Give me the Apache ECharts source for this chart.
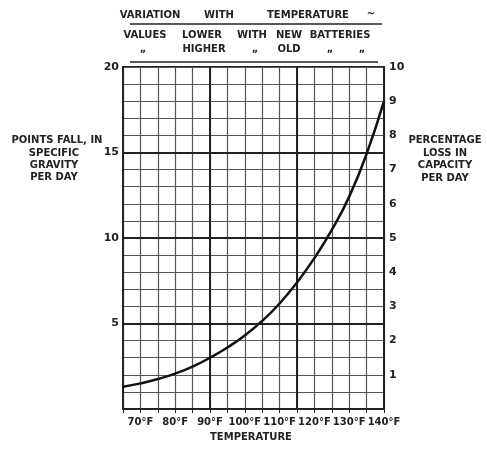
<!DOCTYPE html>
<html>
<head>
<meta charset="utf-8">
<script src="https://cdn.jsdelivr.net/npm/echarts@6/dist/echarts.min.js"></script>
<style>
  html, body { margin: 0; padding: 0; background: #fff; }
  #chart { width: 487px; height: 452px; }
</style>
</head>
<body>
<div id="chart"></div>
<script>
  // temperature (°F) and points fall in specific gravity per day
  var temps = [65, 70, 75, 80, 85, 90, 95, 100, 105, 110, 115, 120, 125, 130, 135, 140];
  var sgFall = [1.3, 1.5, 1.75, 2.07, 2.48, 3.0, 3.6, 4.3, 5.15, 6.17, 7.4, 8.82, 10.47, 12.42, 14.92, 18.0];
  var heavyY = [5, 10, 15];
  var heavyX = [90, 115];

  var font = 'DejaVu Sans';
  var ink = '#222';

  var points = [];
  for (var i = 0; i < temps.length; i++) {
    points.push([temps[i], sgFall[i]]);
  }
  var marks = [];
  heavyY.forEach(function (v) { marks.push({ yAxis: v }); });
  heavyX.forEach(function (v) { marks.push({ xAxis: v }); });

  function txt(x, y, s, align) {
    return {
      type: 'text', x: x, y: y,
      style: { text: s, font: 'bold 10px ' + font, fill: ink, align: align || 'center', verticalAlign: 'middle' }
    };
  }

  const myEcharts = echarts.init(document.getElementById('chart'));
  const options = {
    animation: false,
    grid: {
      left: 123, right: 103, top: 67, bottom: 43,
      show: true, borderColor: ink, borderWidth: 2
    },
    xAxis: {
      type: 'value', min: 65, max: 140, interval: 5,
      axisLine: { lineStyle: { color: ink, width: 2 } },
      axisTick: { show: true, length: 4, lineStyle: { color: ink } },
      splitLine: { show: true, lineStyle: { color: '#555', width: 1.2 } },
      axisLabel: {
        color: ink, fontFamily: font, fontSize: 10, fontWeight: 'bold', margin: 8,
        formatter: function (v) { return v % 10 === 0 ? v + '°F' : ''; }
      }
    },
    yAxis: [{
      type: 'value', min: 0, max: 20, interval: 1,
      axisLine: { show: true, lineStyle: { color: ink, width: 2 } },
      axisTick: { show: false },
      splitLine: { show: true, lineStyle: { color: '#555', width: 1.2 } },
      axisLabel: {
        color: ink, fontFamily: font, fontSize: 11, fontWeight: 'bold', margin: 4,
        formatter: function (v) { return (v % 5 === 0 && v > 0) ? String(v) : ''; }
      }
    }, {
      type: 'value', min: 0, max: 10, interval: 1, position: 'right',
      axisLine: { show: true, lineStyle: { color: ink, width: 2 } },
      axisTick: { show: false },
      splitLine: { show: false },
      axisLabel: {
        color: ink, fontFamily: font, fontSize: 11, fontWeight: 'bold', margin: 5,
        formatter: function (v) { return v > 0 ? String(v) : ''; }
      }
    }],
    series: [{
      type: 'line',
      data: points,
      smooth: true,
      symbol: 'none',
      lineStyle: { color: '#111', width: 2.5 },
      markLine: {
        silent: true, symbol: 'none', label: { show: false },
        lineStyle: { color: ink, width: 2, type: 'solid' },
        data: marks
      },
      z: 5
    }],
    graphic: [
      txt(150, 15, 'VARIATION'), txt(219, 15, 'WITH'), txt(308, 15, 'TEMPERATURE'), txt(371, 14, '~'),
      { type: 'line', shape: { x1: 130, y1: 24, x2: 382, y2: 24 }, style: { stroke: ink, lineWidth: 1.5 } },
      txt(145, 35, 'VALUES'), txt(202, 35, 'LOWER'), txt(252, 35, 'WITH'), txt(289, 35, 'NEW'), txt(340, 35, 'BATTERIES'),
      txt(143, 49, '„'), txt(204, 49, 'HIGHER'), txt(255, 49, '„'), txt(289, 49, 'OLD'), txt(330, 49, '„'), txt(362, 49, '„'),
      { type: 'line', shape: { x1: 130, y1: 62, x2: 378, y2: 62 }, style: { stroke: ink, lineWidth: 1.5 } },
      txt(57, 140, 'POINTS FALL, IN'), txt(54, 153, 'SPECIFIC'), txt(54, 165, 'GRAVITY'), txt(54, 177, 'PER DAY'),
      txt(445, 140, 'PERCENTAGE'), txt(445, 153, 'LOSS IN'), txt(445, 165, 'CAPACITY'), txt(445, 178, 'PER DAY'),
      txt(251, 437, 'TEMPERATURE')
    ]
  };
  myEcharts.setOption(options, true);
</script>
</body>
</html>
